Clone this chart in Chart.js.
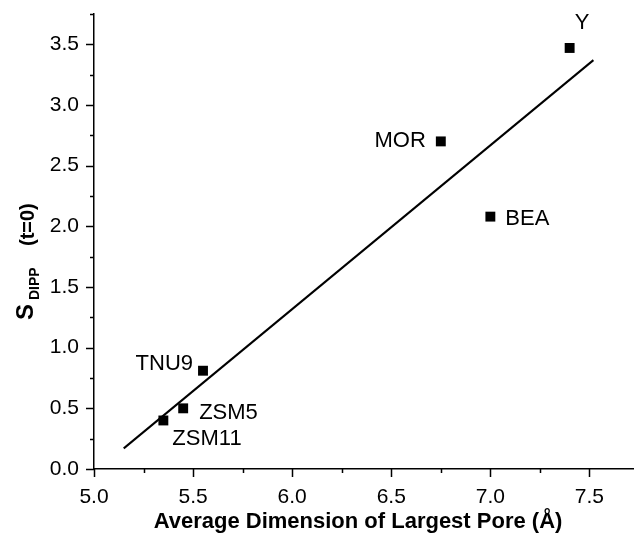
<!DOCTYPE html>
<html>
<head>
<meta charset="utf-8">
<script src="https://cdn.jsdelivr.net/npm/chart.js@4.4.1/dist/chart.umd.min.js"></script>
<style>
  html, body { margin:0; padding:0; background:#fff; overflow:hidden; }
  #cv { display:block; }
</style>
</head>
<body>
<canvas id="cv" width="646" height="545"></canvas>
<script>

// zeolites: pore size vs S_DIPP at t=0
var zeolites = ["ZSM11", "ZSM5", "TNU9", "MOR", "BEA", "Y"];
var poreSize = [5.35, 5.45, 5.55, 6.75, 7.00, 7.40];
var sDipp    = [0.40, 0.50, 0.81, 2.70, 2.08, 3.47];

// linear fit, end points
var fitX = [5.15, 7.52];
var fitY = [0.17, 3.37];

var xTicks = [5.0, 5.5, 6.0, 6.5, 7.0, 7.5];
var yTicks = [0.0, 0.5, 1.0, 1.5, 2.0, 2.5, 3.0, 3.5];

// where each name sits next to its square (px offset, text align)
var labelPos = [
  {dx: 9,   dy: 17, align: "left"},
  {dx: 16,  dy: 3,  align: "left"},
  {dx: -10, dy: -9, align: "right"},
  {dx: -15, dy: -2, align: "right"},
  {dx: 15,  dy: 0,  align: "left"},
  {dx: 5,   dy: -27, align: "left"},
];

var FONT = "'Liberation Sans', Arial, sans-serif";

function isMajor(v, list){
  return list.some(t => Math.abs(t - v) < 1e-6);
}

// ticks, names and axis titles
var decor = {
  id: "decor",
  afterDraw(chart){
    var ctx = chart.ctx;
    var xs = chart.scales.x, ys = chart.scales.y;
    var ca = chart.chartArea;
    ctx.save();
    ctx.strokeStyle = "#000";
    ctx.lineWidth = 1.5;

    ctx.beginPath();
    for (var v = 5.0; v <= 7.75 + 1e-6; v += 0.25) {
      var px = Math.round(xs.getPixelForValue(v)) + 0.5;
      var len = isMajor(v, xTicks) ? 8 : 4;
      ctx.moveTo(px, ca.bottom);
      ctx.lineTo(px, ca.bottom + len);
    }
    for (var w = 0; w <= 3.75 + 1e-6; w += 0.25) {
      var py = Math.round(ys.getPixelForValue(w)) + 0.5;
      var len2 = isMajor(w, yTicks) ? 8 : 4;
      ctx.moveTo(ca.left, py);
      ctx.lineTo(ca.left - len2, py);
    }
    ctx.stroke();

    // point names
    ctx.fillStyle = "#000";
    ctx.font = "22px " + FONT;
    ctx.textBaseline = "alphabetic";
    zeolites.forEach((name, i) => {
      var p = labelPos[i];
      var x = xs.getPixelForValue(poreSize[i]) + p.dx;
      var y = ys.getPixelForValue(sDipp[i]) + p.dy + 8;
      ctx.textAlign = p.align;
      ctx.fillText(name, x, y);
    });

    // x title
    ctx.font = "bold 22px " + FONT;
    ctx.textAlign = "center";
    ctx.fillText("Average Dimension of Largest Pore (\u00C5)", 358, 528);

    // y title with subscript
    ctx.translate(33, 320);
    ctx.rotate(-Math.PI / 2);
    ctx.textAlign = "left";
    ctx.font = "bold 24px " + FONT;
    ctx.fillText("S", 0, 0);
    ctx.font = "bold 14px " + FONT;
    ctx.fillText("DIPP", 20, 6);
    ctx.font = "bold 20px " + FONT;
    ctx.fillText("(t=0)", 74, 1);
    ctx.restore();
  }
};

var chart = new Chart(document.getElementById("cv"), {
  type: "scatter",
  data: {
    datasets: [
      {
        label: "zeolites",
        data: poreSize.map((x, i) => ({x: x, y: sDipp[i]})),
        pointStyle: "rect",
        pointRadius: 7,
        pointHoverRadius: 7,
        backgroundColor: "#000",
        borderColor: "#000",
        borderWidth: 0,
      },
      {
        label: "fit",
        type: "line",
        data: fitX.map((x, i) => ({x: x, y: fitY[i]})),
        showLine: true,
        borderColor: "#000",
        borderWidth: 2,
        pointRadius: 0,
        fill: false,
      }
    ]
  },
  options: {
    responsive: false,
    animation: false,
    devicePixelRatio: 1,
    layout: { padding: {top: 14, right: 1.5, left: 0, bottom: 0} },
    plugins: {
      legend: { display: false },
      tooltip: { enabled: false },
    },
    scales: {
      x: {
        type: "linear",
        min: 5.0,
        max: 7.75,
        afterFit: (s) => { s.height = 76; s.paddingLeft = 0; s.paddingRight = 0; },
        grid: { display: false, drawTicks: false },
        border: { display: true, color: "#000", width: 1.5 },
        ticks: {
          stepSize: 0.25,
          autoSkip: false,
          maxRotation: 0,
          padding: 16,
          color: "#000",
          font: { family: FONT, size: 21 },
          callback: (v) => isMajor(v, xTicks) ? v.toFixed(1) : "",
        },
      },
      y: {
        type: "linear",
        min: 0,
        max: 3.75,
        afterFit: (s) => { s.width = 94; s.paddingTop = 0; s.paddingBottom = 0; },
        grid: { display: false, drawTicks: false },
        border: { display: true, color: "#000", width: 1.5 },
        ticks: {
          stepSize: 0.25,
          autoSkip: false,
          padding: 15,
          color: "#000",
          font: { family: FONT, size: 21 },
          callback: (v) => isMajor(v, yTicks) ? v.toFixed(1) : "",
        },
      }
    }
  },
  plugins: [decor]
});
</script>
</body>
</html>
